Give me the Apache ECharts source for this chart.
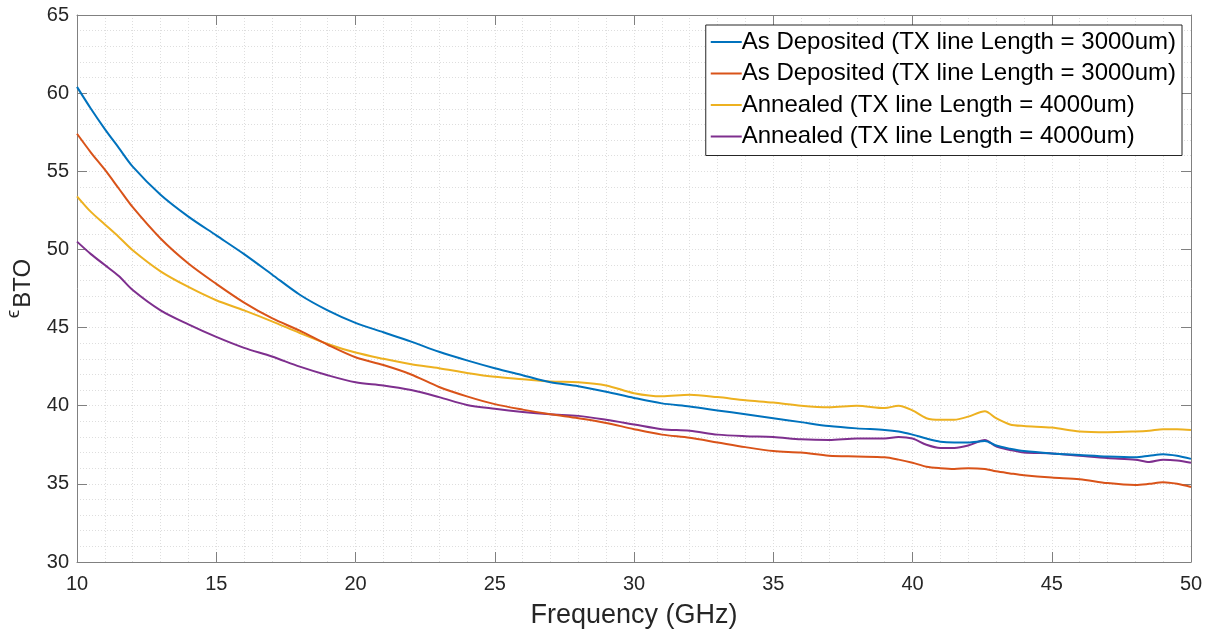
<!DOCTYPE html>
<html>
<head>
<meta charset="utf-8">
<script src="https://cdn.jsdelivr.net/npm/echarts@6/dist/echarts.min.js"></script>
<style>
  html, body { margin: 0; padding: 0; background: #fff; }
  #main { width: 1214px; height: 635px; }
</style>
</head>
<body>
<div id="main"></div>
<script>
  // frequency points (GHz)
  const freq = [10, 10.5, 11, 11.5, 12, 13, 14, 15, 16, 17, 18, 19, 20, 21, 22, 23, 24, 25, 26, 27, 28, 29, 30,
    31, 32, 33, 34, 35, 36, 37, 38, 39, 39.5, 40, 40.5, 41, 41.5, 42, 42.6, 43, 43.5, 44, 45, 46, 47, 48, 48.5, 49, 49.5, 50]

  const depositedA = [60.4, 59.0, 57.7, 56.5, 55.3, 53.5, 52.1, 50.9, 49.7, 48.4, 47.1, 46.1, 45.3, 44.7, 44.1, 43.45, 42.9, 42.4, 41.95, 41.5, 41.25, 40.9, 40.5,
    40.15, 39.95, 39.7, 39.45, 39.2, 38.95, 38.7, 38.55, 38.45, 38.35, 38.15, 37.9, 37.7, 37.65, 37.65, 37.75, 37.45, 37.25, 37.1, 36.95, 36.85, 36.75, 36.7, 36.8, 36.9, 36.8, 36.6]

  const depositedB = [57.4, 56.2, 55.1, 53.9, 52.7, 50.7, 49.1, 47.8, 46.6, 45.6, 44.8, 43.9, 43.1, 42.6, 42.0, 41.2, 40.6, 40.1, 39.75, 39.45, 39.2, 38.9, 38.5,
    38.15, 37.95, 37.65, 37.35, 37.1, 37.0, 36.8, 36.75, 36.7, 36.55, 36.35, 36.1, 36.0, 35.95, 36.0, 35.95, 35.8, 35.67, 35.55, 35.4, 35.3, 35.05, 34.93, 35.0, 35.1, 35.0, 34.8]

  const annealedA = [53.4, 52.4, 51.6, 50.8, 49.95, 48.6, 47.6, 46.75, 46.1, 45.4, 44.65, 43.95, 43.4, 43.0, 42.65, 42.4, 42.1, 41.85, 41.7, 41.55, 41.5, 41.3, 40.8,
    40.6, 40.7, 40.55, 40.35, 40.2, 40.0, 39.9, 40.0, 39.85, 40.0, 39.7, 39.2, 39.1, 39.1, 39.3, 39.65, 39.2, 38.8, 38.7, 38.6, 38.35, 38.3, 38.35, 38.4, 38.5, 38.5, 38.45]

  const annealedB = [50.5, 49.7, 49.0, 48.3, 47.4, 46.1, 45.2, 44.4, 43.7, 43.15, 42.5, 41.95, 41.5, 41.3, 41.0, 40.55, 40.05, 39.8, 39.6, 39.45, 39.35, 39.1, 38.8,
    38.5, 38.4, 38.15, 38.05, 38.0, 37.85, 37.8, 37.9, 37.9, 38.0, 37.9, 37.5, 37.3, 37.3, 37.45, 37.8, 37.4, 37.17, 37.0, 36.95, 36.8, 36.65, 36.55, 36.4, 36.55, 36.5, 36.35]

  const seriesNames = [
    'As Deposited (TX line Length = 3000um)',
    'As Deposited (TX line Length = 3000um)',
    'Annealed (TX line Length = 4000um)',
    'Annealed (TX line Length = 4000um)'
  ]
  const seriesData = [depositedA, depositedB, annealedA, annealedB]
  const colors = ['#0072BD', '#D95319', '#EDB120', '#7E2F8E']

  const font = 'Liberation Sans, Arial, Helvetica, sans-serif'
  const axisColor = '#262626'
  const gridLine = { show: true, lineStyle: { color: '#dedede', type: [1, 2], width: 1 } }

  function pairs(ys) {
    return freq.map((f, i) => [f, ys[i]])
  }

  // names repeat, so pad with zero-width spaces to keep four legend entries
  function uniq(n, i) {
    return n + '\u200b'.repeat(i)
  }

  const myChart = echarts.init(document.getElementById('main'), null, { renderer: 'canvas' })

  const option = {
    backgroundColor: '#fff',
    animation: false,
    color: colors,
    grid: { left: 77, right: 23, top: 15, bottom: 73, containLabel: false, outerBoundsMode: 'none' },
    legend: {
      data: seriesNames.map((n, i) => ({ name: uniq(n, i), icon: 'rect' })),
      orient: 'vertical',
      right: 32,
      top: 25,
      padding: [5, 6, 7, 5],
      itemGap: 7.5,
      itemWidth: 31,
      itemHeight: 2,
      backgroundColor: '#fff',
      borderColor: axisColor,
      borderWidth: 1,
      textStyle: { fontFamily: font, fontSize: 24, color: '#000', padding: [0, 0, 0, -5] }
    },
    xAxis: [
      {
        type: 'value', min: 10, max: 50, interval: 5,
        name: 'Frequency (GHz)', nameLocation: 'middle', nameGap: 40,
        nameTextStyle: { fontFamily: font, fontSize: 27, color: axisColor },
        axisLine: { show: true, onZero: false, lineStyle: { color: '#808080', width: 1 } },
        axisTick: { show: true, inside: true, length: 10, lineStyle: { color: '#808080' } },
        axisLabel: { fontFamily: font, fontSize: 20, color: axisColor, margin: 12 },
        splitLine: gridLine,
        minorTick: { show: false, splitNumber: 5 },
        minorSplitLine: gridLine
      },
      {
        type: 'value', min: 10, max: 50, interval: 5, position: 'top',
        axisLine: { show: true, onZero: false, lineStyle: { color: '#808080', width: 1 } },
        axisTick: { show: true, inside: true, length: 10, lineStyle: { color: '#808080' } },
        axisLabel: { show: false },
        splitLine: { show: false }
      }
    ],
    yAxis: [
      {
        type: 'value', min: 30, max: 65, interval: 5,
        name: '{e|\u03f5}{s|BTO}', nameLocation: 'middle', nameGap: 34, nameRotate: 90,
        nameTextStyle: {
          fontFamily: font, color: axisColor,
          rich: {
            e: { fontFamily: font, fontSize: 19, color: axisColor, verticalAlign: 'top', lineHeight: 32, padding: [0, 2, 0, 0] },
            s: { fontFamily: font, fontSize: 24, color: axisColor, verticalAlign: 'bottom', lineHeight: 32, padding: [14, 0, 0, 0] }
          }
        },
        axisLine: { show: true, onZero: false, lineStyle: { color: '#808080', width: 1 } },
        axisTick: { show: true, inside: true, length: 10, lineStyle: { color: '#808080' } },
        axisLabel: { fontFamily: font, fontSize: 20, color: axisColor, margin: 8 },
        splitLine: gridLine,
        minorTick: { show: false, splitNumber: 5 },
        minorSplitLine: gridLine
      },
      {
        type: 'value', min: 30, max: 65, interval: 5, position: 'right',
        axisLine: { show: true, onZero: false, lineStyle: { color: '#808080', width: 1 } },
        axisTick: { show: true, inside: true, length: 10, lineStyle: { color: '#808080' } },
        axisLabel: { show: false },
        splitLine: { show: false }
      }
    ],
    series: seriesData.map((ys, i) => ({
      name: uniq(seriesNames[i], i),
      type: 'line',
      data: pairs(ys),
      smooth: 0.3,
      symbol: 'none',
      showSymbol: false,
      lineStyle: { width: 2, color: colors[i] },
      itemStyle: { color: colors[i] },
      z: 10 - i
    }))
  }

  myChart.setOption(option, true)
  window.addEventListener('resize', function () { myChart.resize() })
</script>
</body>
</html>
